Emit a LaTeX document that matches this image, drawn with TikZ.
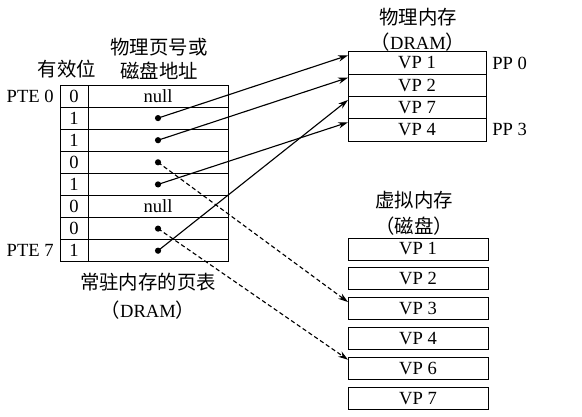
\documentclass[tikz,border=0pt]{standalone}
\usepackage{fontspec}
\setmainfont{Liberation Serif}
\newfontfamily\cjkfont{Noto Sans CJK SC}
\newcommand{\cjk}{\cjkfont\fontsize{13.8}{16}\selectfont}

\usetikzlibrary{positioning, arrows.meta}

\begin{document}
\begin{tikzpicture}[x=0.025cm, y=-0.025cm,
    font=\fontsize{13.2}{15}\selectfont,
    vbit/.style={draw, line width=0.6pt, minimum width=0.7cm, minimum height=0.553cm, inner sep=0pt, outer sep=0pt},
    addr/.style={draw, line width=0.6pt, minimum width=3.5cm, minimum height=0.553cm, inner sep=0pt, outer sep=0pt},
    ppage/.style={draw, line width=0.6pt, minimum width=3.45cm, minimum height=0.557cm, inner sep=0pt, outer sep=0pt},
    dpage/.style={draw, line width=0.6pt, minimum width=3.5cm, minimum height=0.55cm, inner sep=0pt, outer sep=0pt},
    link/.style={-{Stealth[length=7pt, width=4.5pt]}, line width=0.8pt},
    disklink/.style={link, dash pattern=on 3pt off 2pt}]
  \useasboundingbox (0,0) rectangle (582,416);
  % Tabela de paginas
  \foreach \v [count=\i from 0] in {0,1,1,0,1,0,0,1} {
    \node[vbit] (v\i) at (74, {96+22.1*\i}) {\v};
    \node[addr, right=0pt of v\i] (a\i) {};
  }
  \node (null0) at (a0) {null};
  \node (null5) at (a5) {null};
  \foreach \i in {1,2,3,4,6,7} {
    \coordinate (d\i) at (a\i.center);
    \fill (d\i) circle (2.2pt);
  }
  \node[left=1pt of v0] (pte0) {PTE 0};
  \node[left=1pt of v7] (pte7) {PTE 7};
  \node (validlbl) at (67,69) {\cjk 有效位};
  \node (addrlbl1) at (159,47) {\cjk 物理页号或};
  \node (addrlbl2) at (159,71) {\cjk 磁盘地址};
  \node (ptlbl1) at (148,282) {\cjk 常驻内存的页表};
  \node (ptlbl2) at (148,310) {{\cjk （}DRAM{\cjk ）}};
  % Memoria fisica
  \foreach \p [count=\i from 0] in {1,2,7,4}
    \node[ppage] (pp\i) at (417, {63+22.3*\i}) {VP \p};
  \node[right=1pt of pp0] (pp0lbl) {PP 0};
  \node[right=1pt of pp3] (pp3lbl) {PP 3};
  \node (pmlbl1) at (418,17) {\cjk 物理内存};
  \node (pmlbl2) at (418,42) {{\cjk （}DRAM{\cjk ）}};
  % Memoria virtual (disco)
  \foreach \p [count=\i from 0] in {1,2,3,4,6,7}
    \node[dpage] (dk\p) at (418, {249+29.9*\i}) {VP \p};
  \node (vmlbl1) at (414,200) {\cjk 虚拟内存};
  \node (vmlbl2) at (414,226) {\cjk （磁盘）};
  % Mapeamentos
  \draw[link] (d1) -- ([yshift=-2.5pt]pp0.north west);
  \draw[link] (d2) -- ([yshift=-2.5pt]pp1.north west);
  \draw[link] (d7) -- ([yshift=-2.5pt]pp2.north west);
  \draw[link] (d4) -- ([yshift=-2.5pt]pp3.north west);
  \draw[disklink] (d3) -- ([yshift=-3pt]dk3.north west);
  \draw[disklink] (d6) -- ([yshift=-1.5pt]dk6.north west);
\end{tikzpicture}
\end{document}
